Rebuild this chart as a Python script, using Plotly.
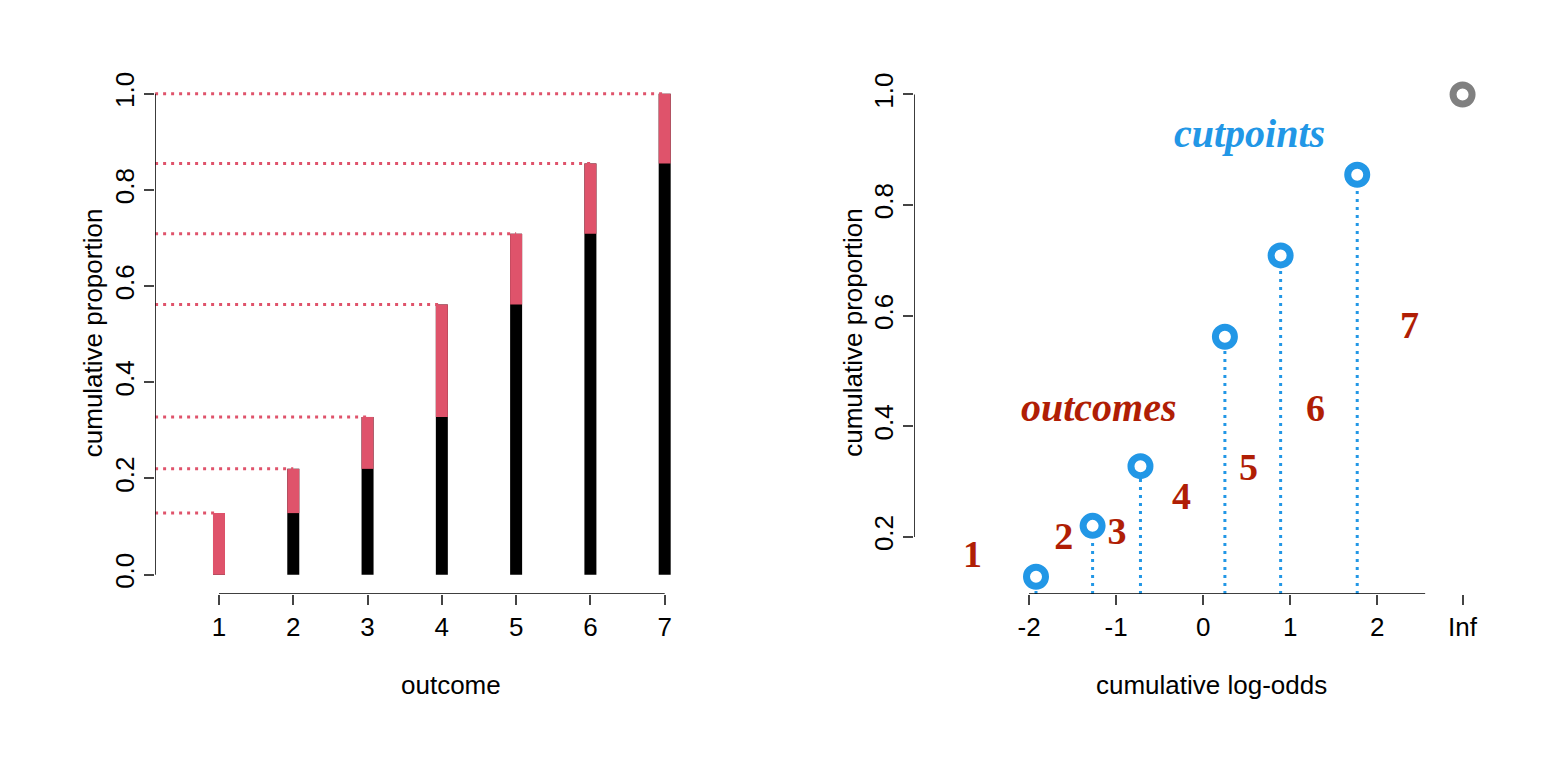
import plotly.graph_objects as go

outcomes = [1, 2, 3, 4, 5, 6, 7]
cum_prop = [0.128, 0.220, 0.328, 0.562, 0.709, 0.855, 1.0]
log_odds = [-1.92, -1.27, -0.72, 0.25, 0.89, 1.77]
inf_x = 2.98
lab_x = [-2.65, -1.60, -0.99, -0.25, 0.52, 1.29, 2.37]
lab_y = [0.163, 0.196, 0.205, 0.268, 0.320, 0.426, 0.577]

RED = "#DF536B"
BLUE = "#2297E6"
DARK = "#B01E05"
F = "Liberation Sans"

fig = go.Figure()

# left panel
for i, o in enumerate(outcomes):
    lo = cum_prop[i - 1] if i > 0 else 0
    fig.add_trace(go.Scatter(x=[o, o], y=[0, cum_prop[i]], mode="lines",
                             line=dict(color="black", width=12), xaxis="x", yaxis="y"))
    fig.add_trace(go.Scatter(x=[o, o], y=[lo, cum_prop[i]], mode="lines",
                             line=dict(color=RED, width=12), xaxis="x", yaxis="y"))
    fig.add_trace(go.Scatter(x=[0.14, o], y=[cum_prop[i], cum_prop[i]], mode="lines",
                             line=dict(color=RED, width=3, dash="3px,5px"), xaxis="x", yaxis="y"))

# right panel
for lx, c in zip(log_odds, cum_prop[:-1]):
    fig.add_trace(go.Scatter(x=[lx, lx], y=[0.097, c], mode="lines",
                             line=dict(color=BLUE, width=3, dash="3px,5px"), xaxis="x2", yaxis="y2"))
fig.add_trace(go.Scatter(x=log_odds, y=cum_prop[:-1], mode="markers",
                         marker=dict(size=19, color="white", line=dict(color=BLUE, width=7)),
                         xaxis="x2", yaxis="y2"))
fig.add_trace(go.Scatter(x=[inf_x], y=[cum_prop[-1]], mode="markers",
                         marker=dict(size=19, color="white", line=dict(color="gray", width=7)),
                         xaxis="x2", yaxis="y2"))
fig.add_trace(go.Scatter(x=lab_x, y=lab_y, mode="text", text=["<b>%d</b>" % o for o in outcomes],
                         textfont=dict(family="Liberation Serif", size=38, color=DARK),
                         xaxis="x2", yaxis="y2"))

ax = dict(showgrid=False, zeroline=False, showline=False, ticks="outside", ticklen=10,
          tickwidth=1.5, tickfont=dict(family=F, size=26, color="black"))
tf = dict(family=F, size=26, color="black")
annotations = [
    dict(text="cumulative proportion", x=0.054, y=0.575, xref="paper", yref="paper", textangle=-90,
         xanchor="center", yanchor="middle", showarrow=False, font=tf),
    dict(text="outcome", x=0.283, y=0.109, xref="paper", yref="paper",
         xanchor="center", yanchor="middle", showarrow=False, font=tf),
    dict(text="cumulative proportion", x=0.540, y=0.575, xref="paper", yref="paper", textangle=-90,
         xanchor="center", yanchor="middle", showarrow=False, font=tf),
    dict(text="cumulative log-odds", x=0.769, y=0.109, xref="paper", yref="paper",
         xanchor="center", yanchor="middle", showarrow=False, font=tf),
    dict(text="<b><i>outcomes</i></b>", x=-1.2, y=0.434, xref="x2", yref="y2", showarrow=False,
         font=dict(family="Liberation Serif", size=40, color=DARK)),
    dict(text="<b><i>cutpoints</i></b>", x=0.53, y=0.93, xref="x2", yref="y2", showarrow=False,
         font=dict(family="Liberation Serif", size=40, color=BLUE)),
]
line = dict(color="black", width=1.5)
shapes = [
    dict(type="line", xref="x", yref="y", x0=0.14, x1=0.14, y0=0, y1=1, line=line),
    dict(type="line", xref="x", yref="y", x0=1, x1=7, y0=-0.04, y1=-0.04, line=line),
    dict(type="line", xref="x2", yref="y2", x0=-3.32, x1=-3.32, y0=0.2, y1=1, line=line),
    dict(type="line", xref="x2", yref="y2", x0=-2, x1=2.55, y0=0.097, y1=0.097, line=line),
]

fig.update_layout(
    width=1565, height=760, margin=dict(l=0, r=0, t=0, b=0),
    plot_bgcolor="white", paper_bgcolor="white", showlegend=False,
    xaxis=dict(ax, domain=[0.094, 0.431], range=[0.14, 7.24], tickvals=outcomes),
    yaxis=dict(ax, domain=[0.230, 0.916], range=[-0.04, 1.04], tickangle=-90,
               tickvals=[0, 0.2, 0.4, 0.6, 0.8, 1.0], ticktext=["0.0", "0.2", "0.4", "0.6", "0.8", "1.0"]),
    xaxis2=dict(ax, domain=[0.579, 0.940], range=[-3.32, 3.17], anchor="y2",
                tickvals=[-2, -1, 0, 1, 2, inf_x], ticktext=["-2", "-1", "0", "1", "2", "Inf"]),
    yaxis2=dict(ax, domain=[0.230, 0.916], range=[0.097, 1.036], anchor="x2", tickangle=-90,
                tickvals=[0.2, 0.4, 0.6, 0.8, 1.0], ticktext=["0.2", "0.4", "0.6", "0.8", "1.0"]),
    annotations=annotations, shapes=shapes,
)
fig.write_html("out.html")
